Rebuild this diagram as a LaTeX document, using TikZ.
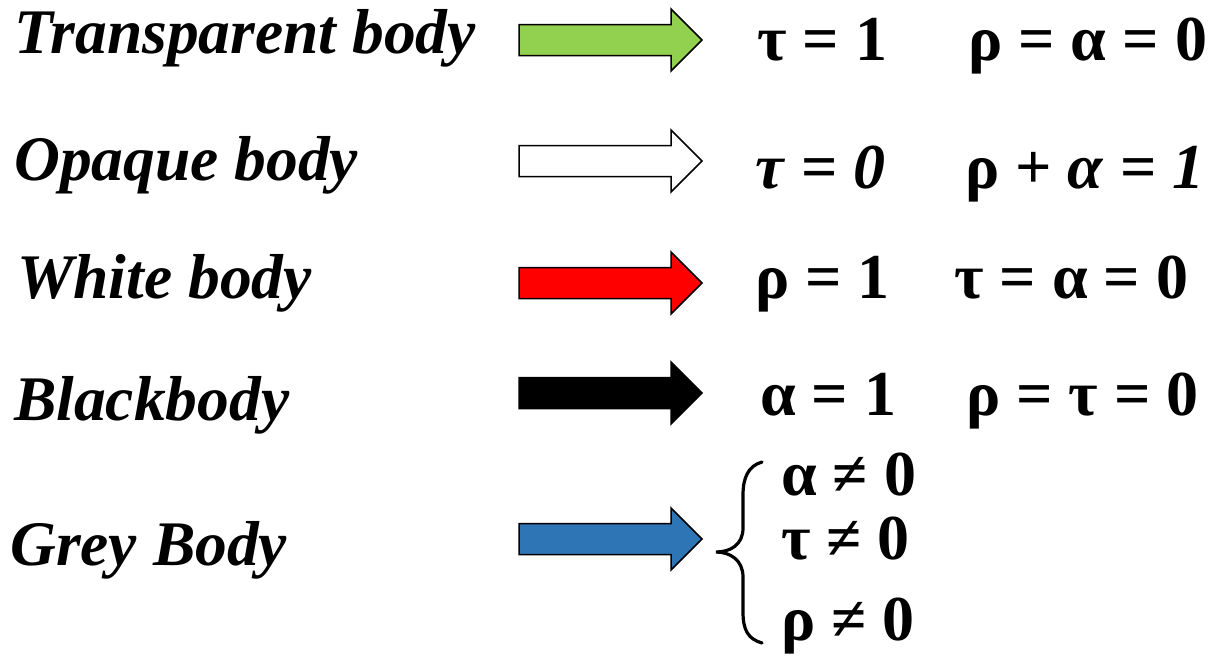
\documentclass[tikz,border=0pt]{standalone}
\usepackage{fontspec}
\setmainfont{Liberation Serif}
\definecolor{agreen}{HTML}{92D050}
\definecolor{ared}{HTML}{FF0000}
\definecolor{ablue}{HTML}{2E75B6}
\begin{document}
\begin{tikzpicture}[x=1pt,y=-1pt]
\tikzset{
 blockarrow/.pic={\draw[pic actions] (0,-15.5) -- (152,-15.5) -- (152,-31) -- (183,0) -- (152,31) -- (152,15.5) -- (0,15.5) -- cycle;},
 lbl/.style={anchor=base west, inner sep=0pt, font=\fontsize{63.5}{70}\selectfont\bfseries\itshape},
 eq/.style={anchor=base west, inner sep=0pt, font=\fontsize{64}{70}\selectfont\bfseries},
 arr/.style={line width=1.5pt, draw=black, line join=miter},
 bracestyle/.style={line width=3.2pt, line cap=round}
}
\useasboundingbox (0,0) rectangle (1221,656);
% labels
\node[lbl] (l1) at (14,53) {Transparent body};
\node[lbl] (l2) at (14,180) {Opaque body};
\node[lbl] (l3) at (17,298) {White body};
\node[lbl] (l4) at (14,420) {Blackbody};
\node[lbl] (l5) at (10,565) {Grey Body};
% arrows
\pic[fill=agreen, arr] at (519,40) {blockarrow};
\pic[fill=white, arr] at (519,161) {blockarrow};
\pic[fill=ared, arr] at (519,283) {blockarrow};
\pic[fill=black, arr] at (519,393) {blockarrow};
\pic[fill=ablue, arr] at (519,539) {blockarrow};
% equations
\node[eq] (e1a) at (757,60) {τ = 1};
\node[eq] (e1b) at (968,60) {ρ = α = 0};
\node[eq] (e2a) at (755,188) {\textit{τ} = \textit{0}};
\node[eq] (e2b) at (965,188) {ρ + \textit{α} = \textit{1}};
\node[eq] (e3a) at (755,298) {ρ = 1};
\node[eq] (e3b) at (954,298) {τ = α = 0};
\node[eq] (e4a) at (760,415) {α = 1};
\node[eq] (e4b) at (966,415) {ρ = τ = 0};
\node[eq] (e5a) at (781,495) {α ≠ 0};
\node[eq] (e5b) at (781,559) {τ ≠ 0};
\node[eq] (e5c) at (781,640) {ρ ≠ 0};
% brace
\coordinate (bt) at (762,462);
\coordinate (bm) at (716,552);
\coordinate (bb) at (762,643);
\draw[bracestyle] (bt) .. controls (748,466) and (743,478) .. (743,495) -- (743,528) .. controls (743,545) and (730,552) .. (bm) .. controls (730,552) and (743,560) .. (743,577) -- (743,612) .. controls (743,630) and (748,639) .. (bb);
\end{tikzpicture}
\end{document}
